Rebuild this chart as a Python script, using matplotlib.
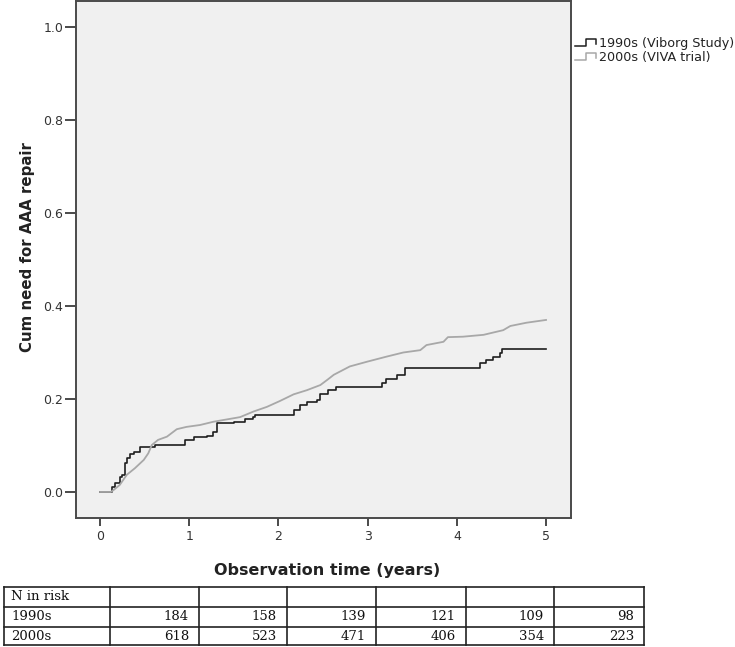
import matplotlib
matplotlib.use("Agg")
import matplotlib.pyplot as plt
from matplotlib.lines import Line2D

# ---- data ----
t_1990s = [0.00, 0.12, 0.13, 0.17, 0.22, 0.25, 0.28, 0.30, 0.34, 0.38, 0.45, 0.62, 0.95, 1.05,
           1.20, 1.27, 1.31, 1.50, 1.63, 1.72, 1.74, 2.17, 2.24, 2.32, 2.43, 2.47, 2.56, 2.65,
           3.16, 3.21, 3.33, 3.42, 4.26, 4.33, 4.41, 4.48, 4.51, 5.00]
y_1990s = [0.000, 0.000, 0.010, 0.019, 0.032, 0.037, 0.062, 0.072, 0.081, 0.087, 0.096, 0.101, 0.112, 0.119,
           0.120, 0.130, 0.148, 0.151, 0.156, 0.162, 0.166, 0.176, 0.187, 0.194, 0.198, 0.211, 0.219, 0.226,
           0.234, 0.244, 0.252, 0.266, 0.277, 0.284, 0.291, 0.298, 0.307, 0.307]

t_2000s = [0.00, 0.12, 0.15, 0.22, 0.30, 0.39, 0.49, 0.54, 0.58, 0.65, 0.75, 0.86, 0.97, 1.12,
           1.27, 1.42, 1.57, 1.72, 1.87, 2.02, 2.17, 2.32, 2.47, 2.56, 2.62, 2.80, 2.99, 3.21,
           3.40, 3.59, 3.66, 3.85, 3.90, 4.07, 4.30, 4.52, 4.60, 4.78, 5.00]
y_2000s = [0.000, 0.000, 0.004, 0.015, 0.037, 0.051, 0.069, 0.083, 0.101, 0.112, 0.119, 0.135, 0.140, 0.144,
           0.151, 0.156, 0.161, 0.173, 0.183, 0.196, 0.210, 0.219, 0.230, 0.243, 0.252, 0.270, 0.280, 0.291,
           0.300, 0.305, 0.316, 0.323, 0.333, 0.334, 0.338, 0.348, 0.357, 0.364, 0.370]

series_labels = ["1990s (Viborg Study)", "2000s (VIVA trial)"]
x_ticks = [0, 1, 2, 3, 4, 5]
y_ticks = [0.0, 0.2, 0.4, 0.6, 0.8, 1.0]

table_header = "N in risk"
table_rows = ["1990s", "2000s"]
risk_1990s = [184, 158, 139, 121, 109, 98]
risk_2000s = [618, 523, 471, 406, 354, 223]

# ---- figure ----
W, H = 735, 647
fig = plt.figure(figsize=(W / 100, H / 100), dpi=100)
fig.patch.set_facecolor("white")

def fx(px):
    return px / W

def fy(py):
    return 1 - py / H

ax_l, ax_r, ax_t, ax_b = 76, 571, 1, 518
ax = fig.add_axes([fx(ax_l), fy(ax_b), fx(ax_r) - fx(ax_l), fy(ax_t) - fy(ax_b)])
ax.set_facecolor("#f0f0f0")
ax.plot(t_1990s, y_1990s, drawstyle="steps-post", color="#1e1e1e", lw=1.2)
# the 2000s curve has very many tiny steps; a fine staircase is best approximated by joining the knots
ax.plot(t_2000s, y_2000s, color="#a8a8a8", lw=1.3)
ax.set_xlim(-0.27, 5.28)
ax.set_ylim(-0.056, 1.056)
ax.set_xticks(x_ticks)
ax.set_xticklabels([str(v) for v in x_ticks])
ax.set_yticks(y_ticks)
ax.set_yticklabels([f"{v:.1f}" for v in y_ticks])
for s in ax.spines.values():
    s.set_color("#4a4a4a")
    s.set_linewidth(1.4)
ax.tick_params(axis="x", length=6, width=1.4, color="#4a4a4a", labelsize=9, labelcolor="#333333", pad=3)
ax.tick_params(axis="y", length=8, width=1.4, color="#4a4a4a", labelsize=9, labelcolor="#333333", pad=1)
ax.set_xlabel("Observation time (years)", fontsize=11.5, fontweight="bold", color="#222222")
ax.set_ylabel("Cum need for AAA repair", fontsize=10.8, fontweight="bold", color="#222222")
# place labels at measured pixel centres
ax.xaxis.set_label_coords((327 - ax_l) / (ax_r - ax_l), (ax_b - 570) / (ax_b - ax_t))
ax.yaxis.set_label_coords((28 - ax_l) / (ax_r - ax_l), (ax_b - 247) / (ax_b - ax_t))
ax.xaxis.label.set_va("center")
ax.yaxis.label.set_va("center")

# ---- legend (step glyphs) ----
leg_colors = ["#1e1e1e", "#a8a8a8"]
for i, (lab, c) in enumerate(zip(series_labels, leg_colors)):
    yc = 43 + i * 14
    xs = [575, 586, 586, 596, 596]
    ys = [yc + 3, yc + 3, yc - 4, yc - 4, yc + 1]
    fig.add_artist(Line2D([fx(v) for v in xs], [fy(v) for v in ys], color=c, lw=1.1))
    fig.text(fx(599), fy(yc), lab, fontsize=9.2, color="#222222", va="center", ha="left")

# ---- N at risk table ----
col_edges = [4, 110, 199, 287, 376, 466, 554, 644]
row_edges = [587, 607, 627, 645]
lc = "#222222"
for x in col_edges:
    fig.add_artist(Line2D([fx(x), fx(x)], [fy(row_edges[0]), fy(row_edges[-1])], color=lc, lw=1.2))
for y in row_edges:
    fig.add_artist(Line2D([fx(col_edges[0]), fx(col_edges[-1])], [fy(y), fy(y)], color=lc, lw=1.2))

tfont = dict(family="DejaVu Serif", fontsize=9.5, color="#111111", va="center")
row_mid = [(row_edges[i] + row_edges[i + 1]) / 2 for i in range(3)]
fig.text(fx(col_edges[0] + 7), fy(row_mid[0]), table_header, ha="left", **tfont)
for r, (lab, vals) in enumerate(zip(table_rows, [risk_1990s, risk_2000s])):
    fig.text(fx(col_edges[0] + 7), fy(row_mid[r + 1]), lab, ha="left", **tfont)
    for j, v in enumerate(vals):
        fig.text(fx(col_edges[j + 2] - 10), fy(row_mid[r + 1]), str(v), ha="right", **tfont)

fig.savefig("out.png", dpi=100)
